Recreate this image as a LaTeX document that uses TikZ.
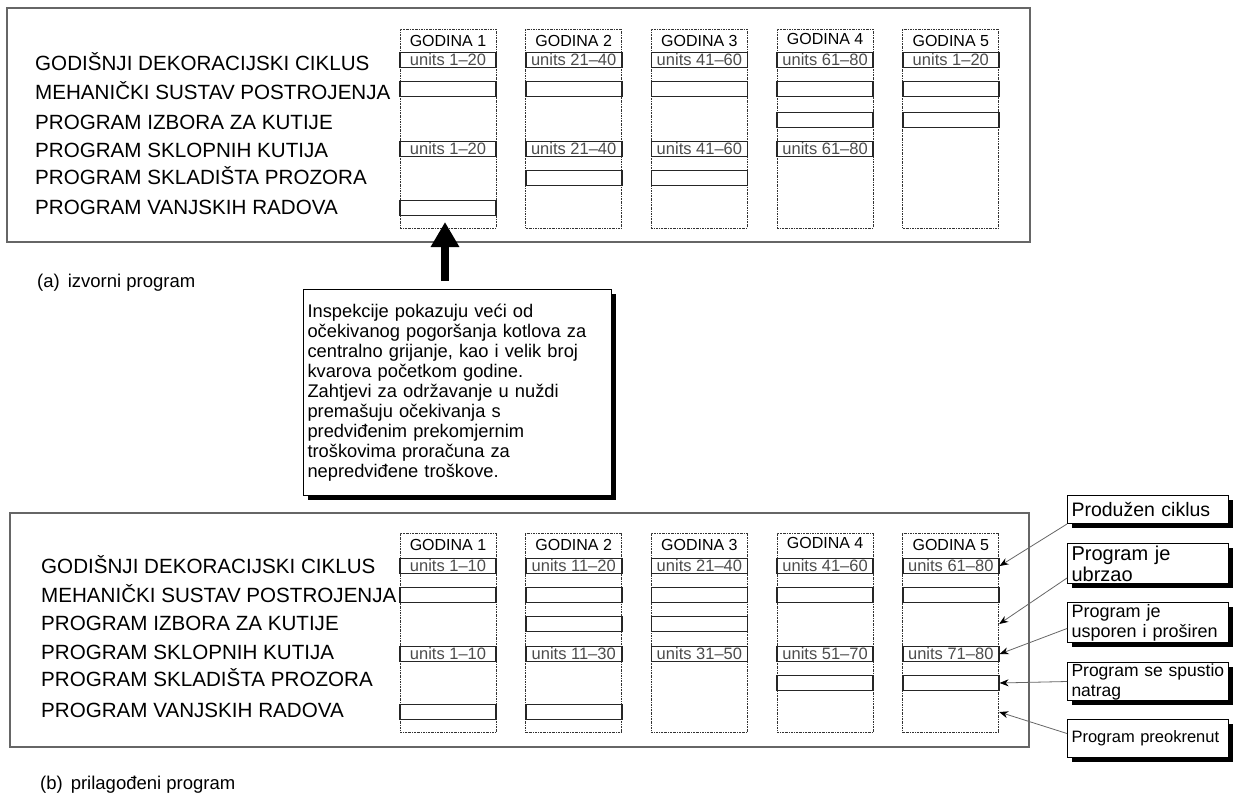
\documentclass[tikz,border=0pt]{standalone}
\usepackage{fontspec}
\setmainfont{Liberation Sans}
\usetikzlibrary{positioning, arrows.meta, shadows}
\tikzstyle{panel} = [draw=black!60, line width=1.5pt]
\tikzstyle{yearcol} = [draw=black!80, line width=0.7pt, dash pattern=on 2pt off 1pt on 0.6pt off 1pt,
    minimum width=96pt, minimum height=199pt, inner sep=0pt]
\tikzstyle{yearlabel} = [inner sep=0pt, font=\fontsize{16}{18}\selectfont]
\tikzstyle{bar} = [draw=black!85, line width=1.6pt, fill=white, minimum width=96pt,
    minimum height=15pt, inner sep=0pt, text=black!70, font=\fontsize{16.5}{18}\selectfont]
\tikzstyle{rowlabel} = [anchor=west, inner sep=0pt, text height=14pt, text depth=0pt,
    font=\fontsize{20.6}{24}\selectfont]
\tikzstyle{note} = [draw, line width=1pt, fill=white, anchor=north west, align=left, inner xsep=4pt,
    drop shadow={shadow xshift=4pt, shadow yshift=-4pt, fill=black, opacity=1}]
\tikzstyle{caption} = [anchor=west, inner sep=0pt, font=\fontsize{18.5}{20}\selectfont]
\tikzstyle{bigarrow} = [line width=8pt, -{Triangle[width=27pt,length=25pt]}]
\tikzstyle{arrow} = [draw=black!60, line width=0.8pt, -{Stealth[length=9pt,width=7pt,color=black]}]

\begin{document}
\begin{tikzpicture}[x=1pt, y=-1pt]
            \useasboundingbox (0,0) rectangle (1234,796);
            % Panels
            \draw[panel] (7,8) rectangle (1030,242);
            \draw[panel] (10,513) rectangle (1029,747);
            \node[caption] (capA) at (37,283) {(a)\hspace{8pt}izvorni program};
            \node[caption] (capB) at (40,785) {(b)\hspace{8pt}prilagođeni program};
            % Rows
            \coordinate (ra1) at (0,60);  \coordinate (rb1) at (0,566);
            \coordinate (ra2) at (0,89);  \coordinate (rb2) at (0,595);
            \coordinate (ra3) at (0,120); \coordinate (rb3) at (0,624);
            \coordinate (ra4) at (0,149); \coordinate (rb4) at (0,654);
            \coordinate (ra5) at (0,178); \coordinate (rb5) at (0,683);
            \coordinate (ra6) at (0,208); \coordinate (rb6) at (0,712);
            % Row labels
            \node[rowlabel] (la1) at (35,63) {GODIŠNJI DEKORACIJSKI CIKLUS};
            \node[rowlabel] (la2) at (35,92) {MEHANIČKI SUSTAV POSTROJENJA};
            \node[rowlabel] (la3) at (35,122) {PROGRAM IZBORA ZA KUTIJE};
            \node[rowlabel] (la4) at (35,150) {PROGRAM SKLOPNIH KUTIJA};
            \node[rowlabel] (la5) at (35,177) {PROGRAM SKLADIŠTA PROZORA};
            \node[rowlabel] (la6) at (35,207) {PROGRAM VANJSKIH RADOVA};
            \node[rowlabel] (lb1) at (41,566) {GODIŠNJI DEKORACIJSKI CIKLUS};
            \node[rowlabel] (lb2) at (41,595) {MEHANIČKI SUSTAV POSTROJENJA};
            \node[rowlabel] (lb3) at (41,623) {PROGRAM IZBORA ZA KUTIJE};
            \node[rowlabel] (lb4) at (41,652) {PROGRAM SKLOPNIH KUTIJA};
            \node[rowlabel] (lb5) at (41,679) {PROGRAM SKLADIŠTA PROZORA};
            \node[rowlabel] (lb6) at (41,710) {PROGRAM VANJSKIH RADOVA};
            % Years
            \node[yearcol] (colA1) at (448,128.5) {};
            \node[yearcol, right=29pt of colA1] (colA2) {};
            \node[yearcol, right=29pt of colA2] (colA3) {};
            \node[yearcol, right=29pt of colA3] (colA4) {};
            \node[yearcol, right=29pt of colA4] (colA5) {};
            \node[yearcol, below=305pt of colA1] (colB1) {};
            \node[yearcol, right=29pt of colB1] (colB2) {};
            \node[yearcol, right=29pt of colB2] (colB3) {};
            \node[yearcol, right=29pt of colB3] (colB4) {};
            \node[yearcol, right=29pt of colB4] (colB5) {};
            \node[yearlabel, below=6pt of colA1.north] {GODINA 1};
            \node[yearlabel, below=6pt of colA2.north] {GODINA 2};
            \node[yearlabel, below=6pt of colA3.north] {GODINA 3};
            \node[yearlabel, below=4pt of colA4.north] {GODINA 4};
            \node[yearlabel, below=6pt of colA5.north] {GODINA 5};
            \node[yearlabel, below=6pt of colB1.north] {GODINA 1};
            \node[yearlabel, below=6pt of colB2.north] {GODINA 2};
            \node[yearlabel, below=6pt of colB3.north] {GODINA 3};
            \node[yearlabel, below=4pt of colB4.north] {GODINA 4};
            \node[yearlabel, below=6pt of colB5.north] {GODINA 5};
            % Original programme
            \node[bar] (A1r1) at (colA1 |- ra1) {units 1–20};
            \node[bar] (A2r1) at (colA2 |- ra1) {units 21–40};
            \node[bar] (A3r1) at (colA3 |- ra1) {units 41–60};
            \node[bar] (A4r1) at (colA4 |- ra1) {units 61–80};
            \node[bar] (A5r1) at (colA5 |- ra1) {units 1–20};
            \node[bar] (A1r2) at (colA1 |- ra2) {};
            \node[bar] (A2r2) at (colA2 |- ra2) {};
            \node[bar] (A3r2) at (colA3 |- ra2) {};
            \node[bar] (A4r2) at (colA4 |- ra2) {};
            \node[bar] (A5r2) at (colA5 |- ra2) {};
            \node[bar] (A4r3) at (colA4 |- ra3) {};
            \node[bar] (A5r3) at (colA5 |- ra3) {};
            \node[bar] (A1r4) at (colA1 |- ra4) {units 1–20};
            \node[bar] (A2r4) at (colA2 |- ra4) {units 21–40};
            \node[bar] (A3r4) at (colA3 |- ra4) {units 41–60};
            \node[bar] (A4r4) at (colA4 |- ra4) {units 61–80};
            \node[bar] (A2r5) at (colA2 |- ra5) {};
            \node[bar] (A3r5) at (colA3 |- ra5) {};
            \node[bar] (A1r6) at (colA1 |- ra6) {};
            % Adjusted programme
            \node[bar] (B1r1) at (colB1 |- rb1) {units 1–10};
            \node[bar] (B2r1) at (colB2 |- rb1) {units 11–20};
            \node[bar] (B3r1) at (colB3 |- rb1) {units 21–40};
            \node[bar] (B4r1) at (colB4 |- rb1) {units 41–60};
            \node[bar] (B5r1) at (colB5 |- rb1) {units 61–80};
            \node[bar] (B1r2) at (colB1 |- rb2) {};
            \node[bar] (B2r2) at (colB2 |- rb2) {};
            \node[bar] (B3r2) at (colB3 |- rb2) {};
            \node[bar] (B4r2) at (colB4 |- rb2) {};
            \node[bar] (B5r2) at (colB5 |- rb2) {};
            \node[bar] (B2r3) at (colB2 |- rb3) {};
            \node[bar] (B3r3) at (colB3 |- rb3) {};
            \node[bar] (B1r4) at (colB1 |- rb4) {units 1–10};
            \node[bar] (B2r4) at (colB2 |- rb4) {units 11–30};
            \node[bar] (B3r4) at (colB3 |- rb4) {units 31–50};
            \node[bar] (B4r4) at (colB4 |- rb4) {units 51–70};
            \node[bar] (B5r4) at (colB5 |- rb4) {units 71–80};
            \node[bar] (B4r5) at (colB4 |- rb5) {};
            \node[bar] (B5r5) at (colB5 |- rb5) {};
            \node[bar] (B1r6) at (colB1 |- rb6) {};
            \node[bar] (B2r6) at (colB2 |- rb6) {};
            % Inspection note
            \node[note, text width=300pt, minimum height=206pt, font=\fontsize{18.3}{20}\selectfont]
            (inspect) at (303,289) {Inspekcije pokazuju veći od\\očekivanog pogoršanja kotlova za\\
            centralno grijanje, kao i velik broj\\kvarova početkom godine.\\
            Zahtjevi za održavanje u nuždi\\premašuju očekivanja s\\predviđenim prekomjernim\\
            troškovima proračuna za\\nepredviđene troškove.};
            \coordinate (tip) at (445,222);
            \draw[bigarrow, shorten <=8pt] (inspect.north -| tip) -- (tip);
            % Changes
            \node[note, text width=153pt, minimum height=28pt, inner ysep=2pt,
            font=\fontsize{19.5}{21}\selectfont] (prod) at (1067,495) {Produžen ciklus};
            \node[note, text width=153pt, minimum height=40pt, inner ysep=0pt,
            font=\fontsize{20}{21}\selectfont] (ubrz) at (1067,543) {Program je\\ubrzao};
            \node[note, text width=153pt, minimum height=40pt, inner ysep=0pt,
            font=\fontsize{18}{20}\selectfont] (uspo) at (1067,602) {Program je\\usporen i proširen};
            \node[note, text width=153pt, minimum height=38pt, inner ysep=0pt,
            font=\fontsize{17.5}{20}\selectfont] (spus) at (1067,662) {Program se spustio\\natrag};
            \node[note, text width=153pt, minimum height=38pt, inner ysep=0pt,
            font=\fontsize{16.5}{20}\selectfont] (preo) at (1067,719) {Program preokrenut};
            % Arrows
            \draw[arrow] (prod.south west) -- (B5r1.east);
            \draw[arrow] ([yshift=6pt]ubrz.south west) -- (colB5.east |- rb3);
            \draw[arrow] ([yshift=-6pt]uspo.west) -- (B5r4.east);
            \draw[arrow] (spus.west) -- (B5r5.east);
            \draw[arrow] ([yshift=5pt]preo.west) -- (colB5.east |- rb6);
        \end{tikzpicture}
\end{document}
